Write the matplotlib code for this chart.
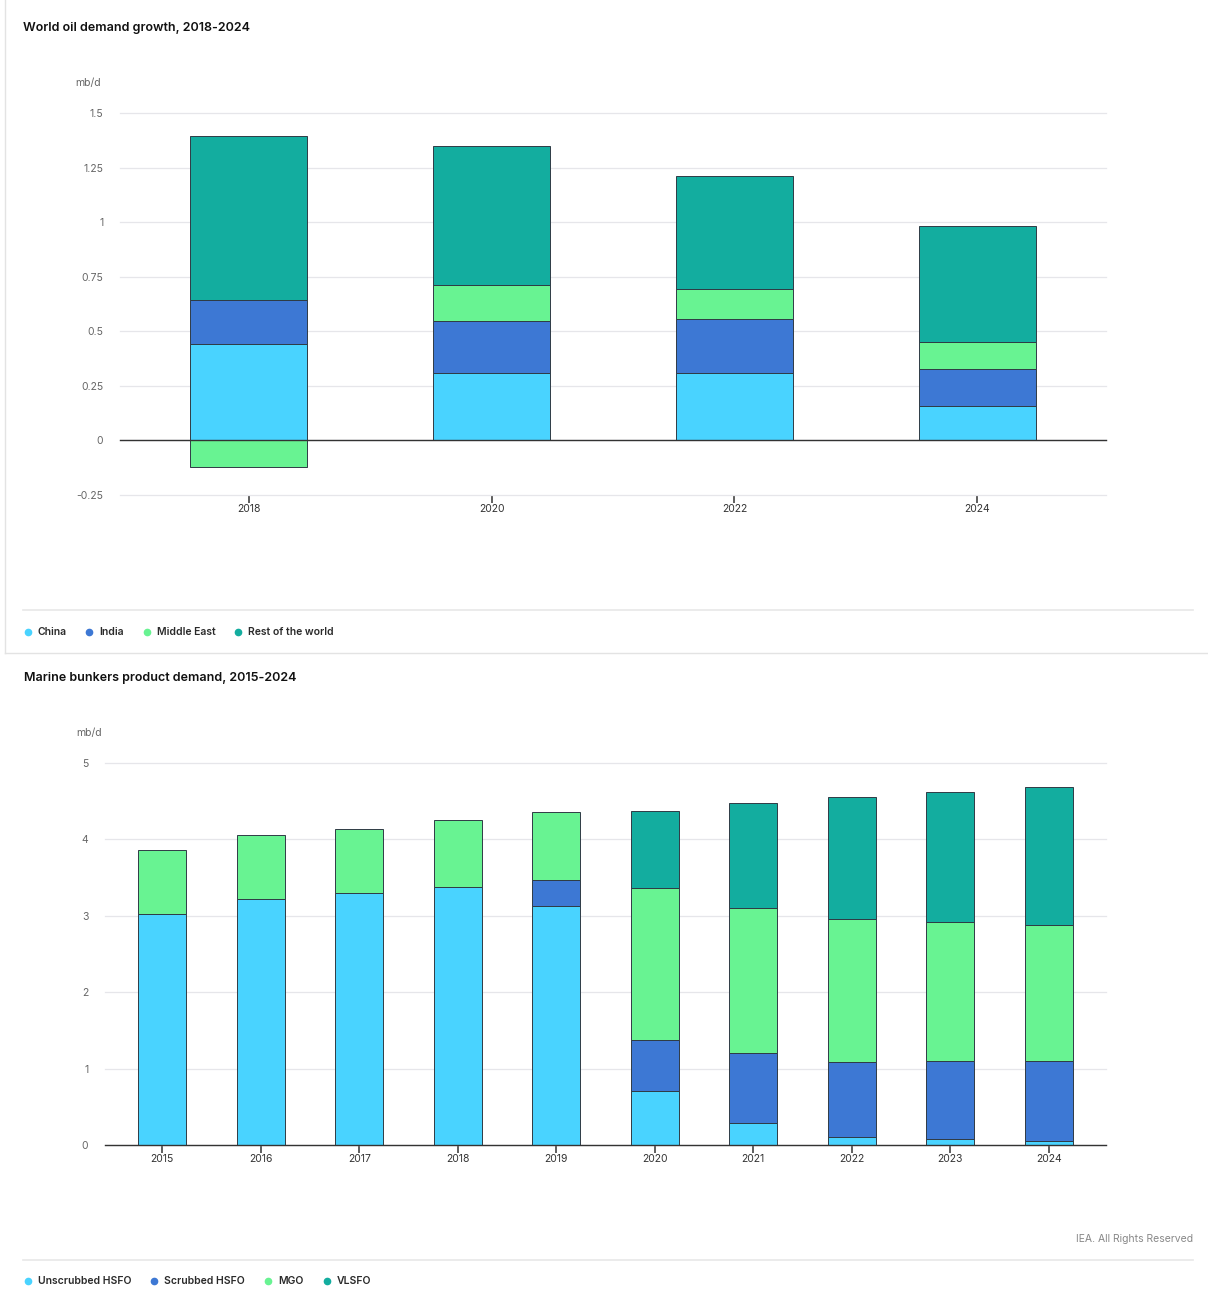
import matplotlib.pyplot as plt
import numpy as np
from matplotlib.lines import Line2D

plt.rcParams['font.family'] = ['Inter', 'DejaVu Sans']

# World oil demand growth (mb/d)
growth_years = ['2018', '2020', '2022', '2024']
growth_regions = ['China', 'India', 'Middle East', 'Rest of the world']
china = [0.44, 0.31, 0.31, 0.16]
india = [0.205, 0.235, 0.245, 0.165]
middle_east = [-0.12, 0.165, 0.14, 0.125]
rest_of_world = [0.75, 0.638, 0.515, 0.532]

# Marine bunkers product demand (mb/d)
bunker_years = ['2015', '2016', '2017', '2018', '2019', '2020', '2021', '2022', '2023', '2024']
bunker_products = ['Unscrubbed HSFO', 'Scrubbed HSFO', 'MGO', 'VLSFO']
unscrubbed_hsfo = [3.02, 3.22, 3.30, 3.38, 3.13, 0.71, 0.29, 0.10, 0.08, 0.05]
scrubbed_hsfo = [0, 0, 0, 0, 0.34, 0.66, 0.91, 0.99, 1.02, 1.05]
mgo = [0.84, 0.84, 0.84, 0.87, 0.89, 1.99, 1.90, 1.87, 1.82, 1.78]
vlsfo = [0, 0, 0, 0, 0, 1.01, 1.38, 1.59, 1.70, 1.81]

colors = ['#49D3FF', '#3D78D4', '#68F392', '#13AD9F']
W, H = 1208, 1297


def stacked(ax, labels, series, width):
    x = np.arange(len(labels))
    pos = np.zeros(len(labels))
    neg = np.zeros(len(labels))
    for vals, c in zip(series, colors):
        vals = np.array(vals, dtype=float)
        bottom = np.where(vals >= 0, pos, neg)
        mask = vals != 0
        ax.bar(x[mask], vals[mask], width, bottom=bottom[mask], color=c,
               edgecolor='#2f3b45', linewidth=0.7, zorder=2)
        pos = pos + np.where(vals > 0, vals, 0)
        neg = neg + np.where(vals < 0, vals, 0)
    ax.set_xticks(x)
    ax.set_xticklabels(labels)


def style(ax, yticks, ylabels):
    ax.set_yticks(yticks)
    ax.set_yticklabels(ylabels)
    ax.grid(axis='y', color='#e6e6ea', linewidth=0.9, zorder=0)
    for gl in ax.get_ygridlines():
        gl.set_clip_on(False)
    ax.axhline(0, color='#333333', linewidth=1.0, zorder=3, clip_on=False)
    for s in ax.spines.values():
        s.set_visible(False)
    ax.tick_params(axis='y', length=0, pad=12, labelsize=7.5, labelcolor='#666666')
    ax.tick_params(axis='x', length=5.5, width=1.1, color='#333333', pad=1,
                   labelsize=7.5, labelcolor='#333333')


def add_legend(y, names, xs):
    for name, c, x in zip(names, colors, xs):
        fig.add_artist(Line2D([x / W], [1 - y / H], marker='o', markersize=4.5,
                              color=c, linestyle='none'))
        fig.text((x + 10) / W, 1 - y / H, name, fontsize=7.5, fontweight='semibold',
                 color='#2a2a2a', va='center', ha='left')


fig = plt.figure(figsize=(W / 100, H / 100), dpi=100)

# Top panel frame and separators
fig.add_artist(Line2D([5 / W, 5 / W], [1, 1 - 653 / H], color='#e3e3e3', lw=1))
fig.add_artist(Line2D([5 / W, 1], [1 - 653 / H, 1 - 653 / H], color='#e3e3e3', lw=1))
fig.add_artist(Line2D([23 / W, 1193 / W], [1 - 610 / H, 1 - 610 / H], color='#e8e8e8', lw=1.2))
fig.add_artist(Line2D([23 / W, 1193 / W], [1 - 1260 / H, 1 - 1260 / H], color='#e8e8e8', lw=1.2))

# World oil demand growth
ax1 = fig.add_axes([120 / W, 1 - 495 / H, 986 / W, 382 / H])
stacked(ax1, growth_years, [china, india, middle_east, rest_of_world], 0.48)
style(ax1, [-0.25, 0, 0.25, 0.5, 0.75, 1, 1.25, 1.5],
      ['-0.25', '0', '0.25', '0.5', '0.75', '1', '1.25', '1.5'])
ax1.set_ylim(-0.25, 1.5)
ax1.set_xlim(-0.53, 3.53)

fig.text(23 / W, 1 - 28 / H, 'World oil demand growth, 2018-2024', fontsize=9,
         fontweight='semibold', color='#111111', va='center')
fig.text(75 / W, 1 - 83 / H, 'mb/d', fontsize=7.5, color='#666666', va='center')
add_legend(632, growth_regions, [28, 89, 147, 238])

# Marine bunkers product demand
ax2 = fig.add_axes([105 / W, 1 - 1145 / H, 1001 / W, 382 / H])
stacked(ax2, bunker_years, [unscrubbed_hsfo, scrubbed_hsfo, mgo, vlsfo], 0.49)
style(ax2, [0, 1, 2, 3, 4, 5], ['0', '1', '2', '3', '4', '5'])
ax2.set_ylim(0, 5)
ax2.set_xlim(-0.58, 9.58)

fig.text(24 / W, 1 - 678 / H, 'Marine bunkers product demand, 2015-2024', fontsize=9,
         fontweight='semibold', color='#111111', va='center')
fig.text(76 / W, 1 - 733 / H, 'mb/d', fontsize=7.5, color='#666666', va='center')
add_legend(1281, bunker_products, [28, 154, 268, 327])

fig.text(1193 / W, 1 - 1239 / H, 'IEA. All Rights Reserved', fontsize=7.5,
         color='#888888', ha='right', va='center')

fig.savefig('out.png', dpi=100)
